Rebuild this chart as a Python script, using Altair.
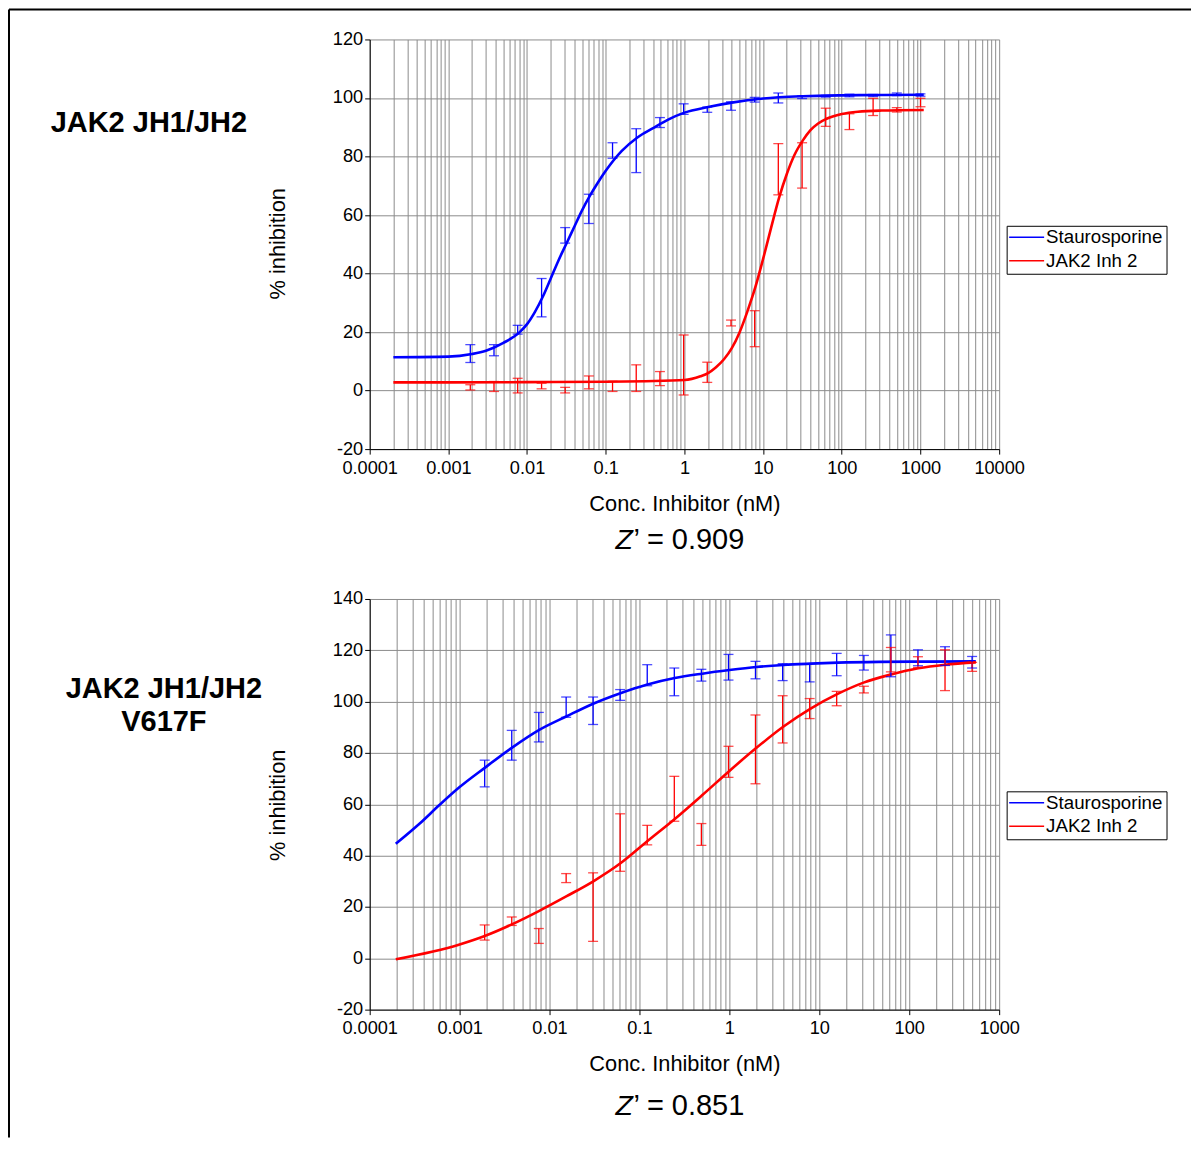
import altair as alt
import pandas as pd

FONT = "Liberation Sans"
BLUE = "#0000ff"
RED = "#ff0000"
SERIES = ["Staurosporine", "JAK2 Inh 2"]

# ---------------- Panel 1: JAK2 JH1/JH2 ----------------
p1_conc = [0.0019, 0.0038, 0.0076, 0.0153, 0.0305, 0.061, 0.122, 0.244, 0.488, 0.977,
           1.95, 3.91, 7.81, 15.6, 31.3, 62.5, 125, 250, 500, 1000]
p1_stauro_low = [9.6, 11.9, 19.3, 25.2, 50.4, 57.1, 79.4, 74.5, 89.9, 94.4,
                 95.1, 95.8, 98.6, 98.3, 99.8, 100.3, 100.4, 100.5, 100.8, 100.6]
p1_stauro_high = [15.7, 15.7, 22.3, 38.3, 55.7, 67.1, 84.7, 89.5, 93.3, 98.0,
                  96.9, 98.7, 100.2, 101.7, 100.7, 100.9, 101.3, 101.2, 101.7, 101.4]
p1_inh_low = [0.2, -0.3, -0.8, 0.6, -0.8, 0.6, -0.3, -0.3, 1.7, -1.5,
              2.8, 22.1, 15.0, 66.9, 69.2, 90.3, 89.2, 94.0, 95.2, 97.0]
p1_inh_high = [2.0, 3.1, 4.2, 2.5, 1.1, 5.0, 3.2, 8.8, 6.5, 19.0,
               9.7, 24.1, 27.3, 84.4, 84.7, 96.5, 94.6, 99.9, 96.7, 99.9]

p1_stauro_fit_x = [0.0002, 0.001, 0.002, 0.003, 0.005, 0.008, 0.01, 0.0126, 0.016, 0.02,
                   0.025, 0.032, 0.04, 0.05, 0.063, 0.08, 0.1, 0.16, 0.25, 0.4,
                   0.63, 1, 2, 4, 10, 32, 100, 320, 1100]
p1_stauro_fit_y = [11.4, 11.6, 12.5, 13.6, 16.3, 19.9, 22.7, 26.9, 32.3, 38.3,
                   44.4, 50.5, 56.1, 61.6, 66.6, 71.2, 75.1, 81.9, 86.4, 89.7,
                   92.7, 95.0, 96.9, 98.4, 99.8, 100.6, 100.9, 101.0, 101.1]
p1_inh_fit_x = [0.0002, 0.001, 0.01, 0.1, 0.32, 1, 1.6, 2, 2.5, 3.2,
                4, 5, 6.3, 8, 10, 12.6, 16, 20, 25, 32,
                40, 50, 63, 100, 160, 320, 1100]
p1_inh_fit_y = [2.8, 2.8, 2.9, 3.0, 3.2, 3.6, 4.9, 6.0, 7.9, 10.8,
                14.5, 19.8, 27.0, 35.5, 45.0, 55.5, 66.0, 74.0, 80.5, 85.5,
                89.0, 91.3, 92.8, 94.5, 95.3, 95.7, 95.9]

# ---------------- Panel 2: JAK2 JH1/JH2 V617F ----------------
p2_conc = [0.0019, 0.0038, 0.0076, 0.0153, 0.0305, 0.061, 0.122, 0.244, 0.488, 0.977,
           1.95, 3.91, 7.81, 15.6, 31.3, 62.5, 125, 250, 500]
p2_stauro_low = [66.8, 77.2, 84.3, 93.9, 91.1, 100.5, 106.2, 102.3, 108.0, 108.4,
                 108.9, 108.2, 107.7, 110.1, 112.3, 109.7, 114.0, 114.1, 113.1]
p2_stauro_high = [77.2, 88.8, 95.8, 101.8, 101.8, 104.7, 114.4, 113.1, 112.6, 118.4,
                  115.7, 114.8, 114.8, 118.8, 118.0, 126.0, 120.2, 121.4, 117.6]
p2_inh_low = [7.1, 12.8, 5.8, 29.5, 6.6, 33.9, 44.2, 53.4, 44.0, 70.5,
              68.0, 83.9, 93.4, 98.4, 103.4, 111.6, 113.3, 104.3, 111.8]
p2_inh_high = [13.0, 16.1, 11.6, 33.0, 33.3, 56.3, 51.8, 70.9, 52.5, 82.6,
               94.8, 102.3, 101.2, 104.0, 106.0, 121.1, 117.5, 120.2, 115.3]

p2_stauro_fit_x = [0.000195, 0.00036, 0.0006, 0.001, 0.0019, 0.0038, 0.0076, 0.0155, 0.031, 0.0625,
                   0.12, 0.247, 0.5, 1, 2, 4, 8, 16, 46, 160, 550]
p2_stauro_fit_y = [44.6, 52.5, 59.8, 66.7, 74.2, 82.0, 88.9, 94.3, 99.3, 103.4,
                   106.6, 109.2, 110.9, 112.3, 113.5, 114.3, 114.8, 115.2, 115.5, 115.6, 115.7]
p2_inh_fit_x = [0.000195, 0.001, 0.0019, 0.0038, 0.0076, 0.0155, 0.031, 0.0625, 0.12, 0.247,
                0.5, 1, 2, 4, 8, 16, 31, 63, 126, 250, 550]
p2_inh_fit_y = [-0.4, 5.4, 8.7, 13.2, 18.4, 24.2, 30.1, 37.2, 45.4, 54.3,
                63.6, 73.0, 82.0, 90.3, 97.3, 103.0, 107.4, 110.6, 113.0, 114.4, 115.3]

panel_titles = [["JAK2 JH1/JH2"], ["JAK2 JH1/JH2", "V617F"]]
z_values = ["’ = 0.909", "’ = 0.851"]
x_title = "Conc. Inhibitor (nM)"
y_title = "% inhibition"


def log_ticks(lo_exp, hi_exp):
    vals = []
    for e in range(lo_exp, hi_exp):
        for k in range(1, 10):
            vals.append(float(f"{k}e{e}"))
    vals.append(float(f"1e{hi_exp}"))
    return vals


DECADE = "abs(log(datum.value)/LN10 - round(log(datum.value)/LN10)) < 0.001"
color_scale = alt.Scale(domain=SERIES, range=[BLUE, RED])


def one(val):
    return pd.DataFrame({"v": [val]})


def panel(idx, conc, s_lo, s_hi, i_lo, i_hi, sfx, sfy, ifx, ify,
          hi_exp, ymax, height, legend_y, title_ys, z_y, ytitle_y, frame):
    xvals = log_ticks(-4, hi_exp)
    xscale = alt.Scale(type="log", domain=[1e-4, float(f"1e{hi_exp}")], nice=False)
    yscale = alt.Scale(domain=[-20, ymax], nice=False, zero=False)
    xaxis = alt.Axis(values=xvals, grid=True, title=x_title,
                     labelExpr=f"{DECADE} ? format(datum.value, '~g') : ''",
                     tickOpacity={"condition": {"test": DECADE, "value": 1}, "value": 0},
                     labelOverlap=False, labelFlush=False, labelBound=False,
                     tickSize=5, labelPadding=5,
                     titleY=54, titleBaseline="middle")
    yaxis = alt.Axis(values=list(range(-20, ymax + 1, 20)), grid=True, title=y_title,
                     labelExpr="replace(datum.label, '\u2212', '-')",
                     labelFlush=False, labelOverlap=False, tickSize=5, labelPadding=2,
                     titleX=-92, titleY=ytitle_y, titleAngle=-90,
                     titleBaseline="middle", titleAlign="center")

    curves = pd.DataFrame({
        "conc": sfx + ifx,
        "pct": sfy + ify,
        "series": [SERIES[0]] * len(sfx) + [SERIES[1]] * len(ifx),
    })
    bars = pd.DataFrame({
        "conc": conc + conc,
        "low": s_lo + i_lo,
        "high": s_hi + i_hi,
        "series": [SERIES[0]] * len(conc) + [SERIES[1]] * len(conc),
    })
    X = alt.X("conc:Q", scale=xscale, axis=xaxis)
    col = alt.Color("series:N", scale=color_scale, legend=None)

    lines = alt.Chart(curves).mark_line(strokeWidth=2.6, interpolate="monotone").encode(
        x=X, y=alt.Y("pct:Q", scale=yscale, axis=yaxis), color=col, detail="series:N")
    stems = alt.Chart(bars).mark_rule(strokeWidth=1.3).encode(
        x=X, y=alt.Y("low:Q", scale=yscale, axis=yaxis), y2="high:Q", color=col)
    cap_lo = alt.Chart(bars).mark_tick(orient="horizontal", size=10, thickness=1.3).encode(
        x=X, y=alt.Y("low:Q", scale=yscale, axis=yaxis), color=col)
    cap_hi = alt.Chart(bars).mark_tick(orient="horizontal", size=10, thickness=1.3).encode(
        x=X, y=alt.Y("high:Q", scale=yscale, axis=yaxis), color=col)

    layers = [lines, stems, cap_lo, cap_hi]

    # panel title(s) on the left
    for t, ty in zip(panel_titles[idx], title_ys):
        layers.append(alt.Chart(one(t)).mark_text(
            font=FONT, fontSize=29, fontWeight="bold", color="black",
            align="center", baseline="middle").encode(
            x=alt.value(-206 if idx else -221), y=alt.value(ty), text="v:N"))

    # Z' annotation
    layers.append(alt.Chart(one("Z")).mark_text(
        font=FONT, fontSize=28.5, fontStyle="italic", color="black",
        align="left", baseline="middle").encode(
        x=alt.value(246), y=alt.value(z_y), text="v:N"))
    layers.append(alt.Chart(one(z_values[idx])).mark_text(
        font=FONT, fontSize=29, color="black", align="left", baseline="middle").encode(
        x=alt.value(264), y=alt.value(z_y), text="v:N"))

    # legend box
    ly0 = legend_y
    layers.append(alt.Chart(one(0)).mark_rect(fill="white", stroke="black", strokeWidth=1).encode(
        x=alt.value(638), x2=alt.value(798), y=alt.value(ly0), y2=alt.value(ly0 + 48)))
    for k, (name, c) in enumerate(zip(SERIES, [BLUE, RED])):
        yy = ly0 + 11 + 23.5 * k
        layers.append(alt.Chart(one(name)).mark_rule(color=c, strokeWidth=1.5).encode(
            x=alt.value(640), x2=alt.value(675), y=alt.value(yy)))
        layers.append(alt.Chart(one(name)).mark_text(
            font=FONT, fontSize=18.7, color="black", align="left", baseline="middle").encode(
            x=alt.value(677), y=alt.value(yy), text="v:N"))

    if frame:
        layers.append(alt.Chart(one(0)).mark_rule(color="black", strokeWidth=2).encode(
            x=alt.value(-361), y=alt.value(-30), y2=alt.value(1099)))
        layers.append(alt.Chart(one(0)).mark_rule(color="black", strokeWidth=2).encode(
            x=alt.value(-361), x2=alt.value(822), y=alt.value(-30)))

    return alt.layer(*layers).properties(width=630, height=height)


top = panel(0, p1_conc, p1_stauro_low, p1_stauro_high, p1_inh_low, p1_inh_high,
            p1_stauro_fit_x, p1_stauro_fit_y, p1_inh_fit_x, p1_inh_fit_y,
            hi_exp=4, ymax=120, height=410, legend_y=187, title_ys=[84],
            z_y=501, ytitle_y=204, frame=True)
bottom = panel(1, p2_conc, p2_stauro_low, p2_stauro_high, p2_inh_low, p2_inh_high,
               p2_stauro_fit_x, p2_stauro_fit_y, p2_inh_fit_x, p2_inh_fit_y,
               hi_exp=3, ymax=140, height=411, legend_y=193, title_ys=[90, 123],
               z_y=507, ytitle_y=206, frame=False)

chart = alt.vconcat(top, bottom, spacing=150, bounds="flush").properties(
    padding=0
).configure_view(stroke=None).configure_axis(
    labelFont=FONT, labelFontSize=18.2, labelColor="black",
    titleFont=FONT, titleFontSize=21.8, titleFontWeight="normal", titleColor="black",
    domainColor="black", domainWidth=1, tickColor="black", tickWidth=1,
    gridColor="#8c8c8c", gridOpacity=1, gridWidth=1,
)

chart.save("out.html", embed_options={"renderer": "svg", "actions": False})
